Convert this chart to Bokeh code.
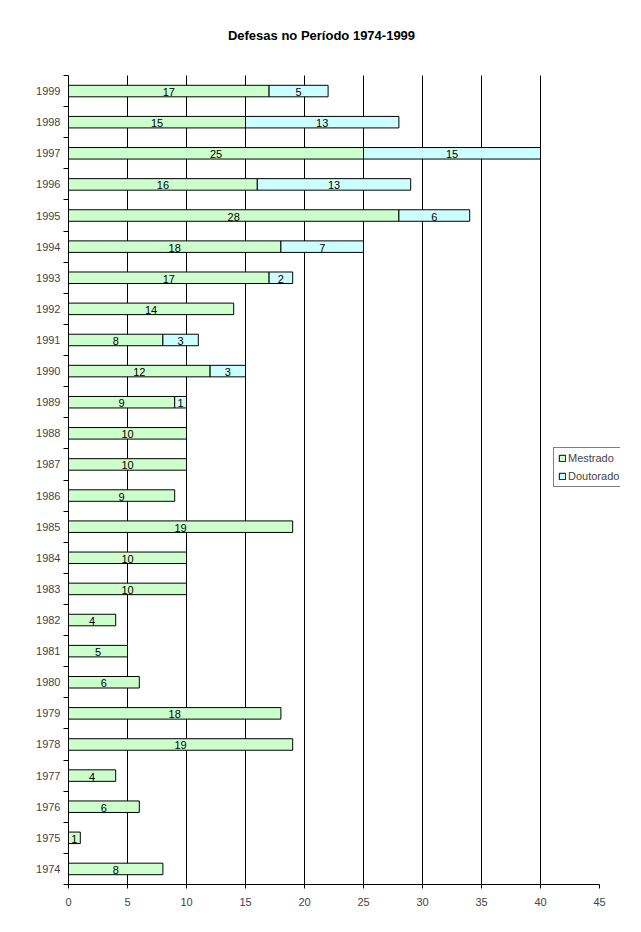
from bokeh.plotting import figure
from bokeh.models import FixedTicker, ColumnDataSource, Legend, LegendItem, Range1d, Label
from bokeh.core.properties import value
from bokeh.embed import file_html
from bokeh.resources import INLINE

title = "Defesas no Período 1974-1999"
years = [1974, 1975, 1976, 1977, 1978, 1979, 1980, 1981, 1982, 1983, 1984, 1985, 1986,
         1987, 1988, 1989, 1990, 1991, 1992, 1993, 1994, 1995, 1996, 1997, 1998, 1999]
mestrado = [8, 1, 6, 4, 19, 18, 6, 5, 4, 10, 10, 19, 9,
            10, 10, 9, 12, 8, 14, 17, 18, 28, 16, 25, 15, 17]
doutorado = [0, 0, 0, 0, 0, 0, 0, 0, 0, 0, 0, 0, 0,
             0, 0, 1, 3, 3, 0, 2, 7, 6, 13, 15, 13, 5]
x_ticks = [0, 5, 10, 15, 20, 25, 30, 35, 40, 45]

FONT = "Liberation Sans"
GREEN = "#ccffcc"
CYAN = "#ccffff"

idx = list(range(len(years)))
n = len(years)

# frame: x 68..620 px (0..45 spans 68..599), y 20..884 px (categories span 75..884)
PX_X = 531 / 45
PX_Y = 809 / n
TOP, BOTTOM, LEFT, RIGHT = 20, 884, 68, 620
p = figure(width=625, height=916, output_backend="svg", toolbar_location=None,
           x_range=Range1d(0, (RIGHT - LEFT) / PX_X),
           y_range=Range1d(-0.5, -0.5 + (BOTTOM - TOP) / PX_Y),
           min_border_left=LEFT, min_border_right=625 - RIGHT,
           min_border_top=TOP, min_border_bottom=916 - BOTTOM)
p.outline_line_color = None
p.background_fill_color = "white"
p.border_fill_color = "white"

p.add_layout(Label(x=(321 - LEFT) / PX_X, y=(BOTTOM - 35) / PX_Y - 0.5, text=title,
                   text_align="center", text_baseline="middle", text_font=FONT,
                   text_font_size="13px", text_font_style="bold", text_color="black"))

# vertical gridlines limited to the category area
grid_x = x_ticks[1:-1]
p.segment(x0=grid_x, x1=grid_x, y0=[-0.5] * len(grid_x), y1=[n - 0.5] * len(grid_x),
          line_color="black", line_width=1)

m_src = ColumnDataSource(dict(y=idx, left=[0] * n, right=mestrado,
                              mid=[v / 2 for v in mestrado], lab=[str(v) for v in mestrado]))
d_i = [i for i in idx if doutorado[i] > 0]
d_src = ColumnDataSource(dict(y=d_i, left=[mestrado[i] for i in d_i],
                              right=[mestrado[i] + doutorado[i] for i in d_i],
                              mid=[mestrado[i] + doutorado[i] / 2 for i in d_i],
                              lab=[str(doutorado[i]) for i in d_i]))

r_m = p.hbar(y="y", left="left", right="right", height=0.37, source=m_src,
             fill_color=GREEN, line_color="black", line_width=1)
r_d = p.hbar(y="y", left="left", right="right", height=0.37, source=d_src,
             fill_color=CYAN, line_color="black", line_width=1)

for src in (m_src, d_src):
    p.text(x="mid", y="y", text="lab", source=src, text_align="center",
           text_baseline="middle", text_font=value(FONT), text_font_size="11px",
           text_color="black", y_offset=1)

p.ygrid.grid_line_color = None
p.xgrid.grid_line_color = None

p.xaxis.ticker = FixedTicker(ticks=x_ticks)
p.xaxis.bounds = (0, 45)
p.xaxis.axis_line_color = "black"
p.xaxis.major_tick_in = 0
p.xaxis.major_tick_out = 4
p.xaxis.minor_tick_line_color = None
p.xaxis.major_label_text_font = FONT
p.xaxis.major_label_text_font_size = "11px"
p.xaxis.major_label_standoff = 9

bounds = [i - 0.5 for i in range(n + 1)]
p.yaxis.ticker = FixedTicker(ticks=idx, minor_ticks=bounds)
p.yaxis.bounds = (-0.5, n - 0.5)
p.yaxis.major_label_overrides = {i: str(y) for i, y in zip(idx, years)}
p.yaxis.major_tick_in = 0
p.yaxis.major_tick_out = 0
p.yaxis.minor_tick_in = 0
p.yaxis.minor_tick_out = 5
p.yaxis.minor_tick_line_color = "black"
p.yaxis.axis_line_color = "black"
p.yaxis.major_label_text_font = FONT
p.yaxis.major_label_text_font_size = "11px"
p.yaxis.major_label_standoff = 3

legend = Legend(items=[LegendItem(label="Mestrado", renderers=[r_m]),
                       LegendItem(label="Doutorado", renderers=[r_d])],
                location=(485, 397))
legend.border_line_color = "black"
legend.border_line_width = 1
legend.background_fill_color = "white"
legend.background_fill_alpha = 1
legend.label_text_font = FONT
legend.label_text_font_size = "11px"
legend.glyph_width = 8
legend.glyph_height = 8
legend.label_standoff = 2
legend.label_height = 12
legend.spacing = 6
legend.padding = 4
legend.margin = 0
p.add_layout(legend, "center")

open("out.html", "w").write(file_html(p, INLINE))
